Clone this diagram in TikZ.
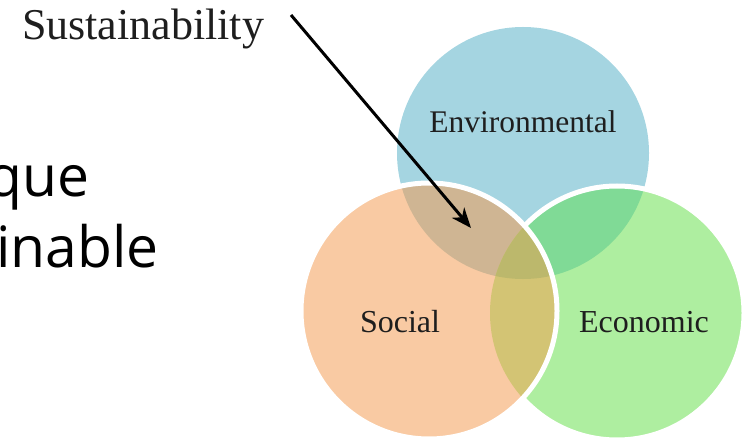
\documentclass[tikz,border=0pt]{standalone}
\usepackage{fontspec}
\setmainfont{Liberation Serif}
\newfontfamily\slidefont{Open Sans}
\usetikzlibrary{arrows.meta}

\definecolor{envblue}{HTML}{A5D5E1}
\definecolor{socorange}{HTML}{F9CAA3}
\definecolor{ecogreen}{HTML}{AEEEA0}
\definecolor{envsoc}{HTML}{CFB593}
\definecolor{enveco}{HTML}{80DA96}
\definecolor{soceco}{HTML}{D3C474}
\definecolor{allthree}{HTML}{BCB86C}
\definecolor{txtgray}{HTML}{1E1E1E}

\newcommand*\envcirc{(523,153) circle[radius=126pt]}
\newcommand*\soccirc{(429,311) circle[radius=128pt]}
\newcommand*\ecocirc{(617,313) circle[radius=127pt]}

\begin{document}
\begin{tikzpicture}
[
  x=1pt, y=-1pt,
  >={Stealth[length=20pt,width=16pt,inset=6pt]},
  rim/.style = {draw = white, line width = 5pt},
  lbl/.style = {anchor = base, inner sep = 0pt, text = txtgray},
  slide/.style = {anchor = base west, inner sep = 0pt, font = \slidefont\fontsize{57}{62}\selectfont},
]

\clip (0,0) rectangle (749,438);

\fill[envblue] \envcirc;
\fill[ecogreen] \ecocirc;
\begin{scope}
  \clip \envcirc;
  \fill[enveco] \ecocirc;
\end{scope}
\draw[rim] \ecocirc;

\fill[socorange] \soccirc;
\begin{scope}
  \clip \soccirc;
  \fill[envsoc] \envcirc;
  \fill[soceco] \ecocirc;
  \clip \envcirc;
  \fill[allthree] \ecocirc;
\end{scope}
\draw[rim] \soccirc;

\node (sust) at (143,40) [lbl, font = \fontsize{44}{48}\selectfont] {Sustainability};
\node (env) at (523,133) [lbl, font = \fontsize{31.5}{34}\selectfont] {Environmental};
\node (soc) at (400,332) [lbl, font = \fontsize{32}{34}\selectfont] {Social};
\node (eco) at (644,332) [lbl, font = \fontsize{32}{34}\selectfont] {Economic};

\node (que) at (-13,197) [slide] {que};
\node (inable) at (-4,268) [slide] {inable};

\coordinate (from) at (291,15);
\coordinate (to) at (471,228);
\draw[->, line width = 3pt] (from) -- (to);

\end{tikzpicture}
\end{document}
